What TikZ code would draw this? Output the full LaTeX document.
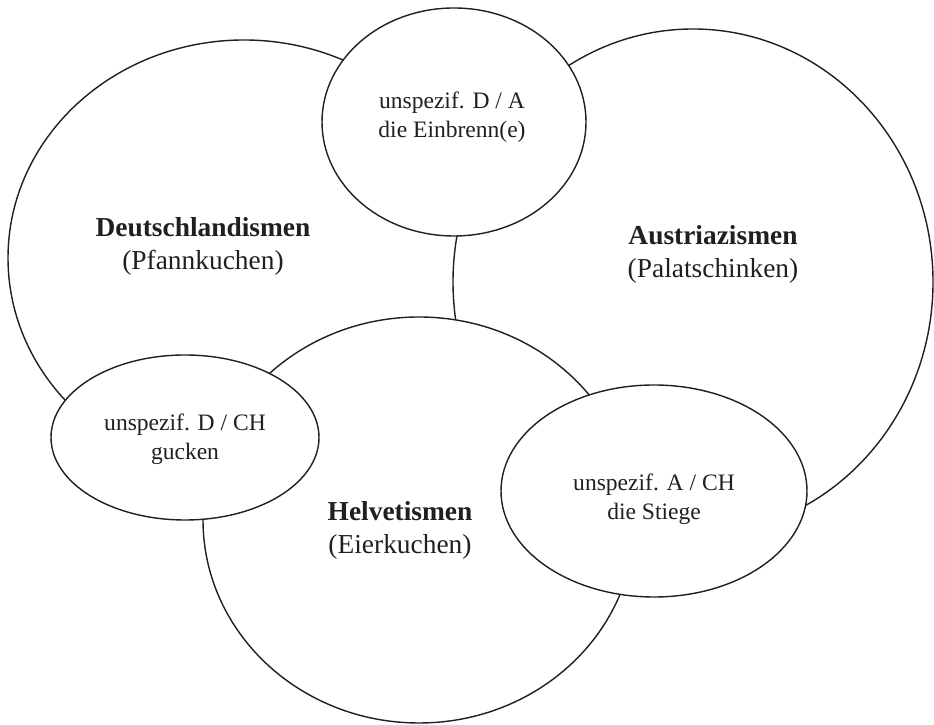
\documentclass[tikz,border=0pt]{standalone}
\usepackage{fontspec}
\setmainfont{Liberation Serif}
\usetikzlibrary{shapes.geometric}
\definecolor{VdInk}{RGB}{35,31,32}
\tikzset{
  vd/region/.style={
    ellipse,
    draw=VdInk,
    line width=0.8pt,
    fill=white,
    inner sep=0pt,
    outer sep=0pt
  },
  vd/title/.style={
    align=center,
    text=VdInk,
    font=\fontsize{15.6}{18.8}\selectfont
  },
  vd/note/.style={
    align=center,
    text=VdInk,
    font=\fontsize{13.4}{16.6}\selectfont
  }
}

\begin{document}
\begin{tikzpicture}[x=1cm,y=1cm]
  \useasboundingbox (0,0) rectangle (18.68,14.5);
  % three varieties
  \node[vd/region,minimum width=9.44cm,minimum height=8.72cm] (deu) at (4.88,9.34) {};
  \node[vd/region,minimum width=9.60cm,minimum height=10.12cm] (aut) at (13.86,8.86) {};
  \node[vd/region,minimum width=8.64cm,minimum height=8.12cm] (che) at (8.38,4.10) {};
  % overlaps
  \node[vd/region,minimum width=5.28cm,minimum height=4.56cm] (deaut) at (9.08,12.06) {};
  \node[vd/region,minimum width=5.36cm,minimum height=3.30cm] (deche) at (3.70,5.75) {};
  \node[vd/region,minimum width=6.12cm,minimum height=4.24cm] (autche) at (13.08,4.68) {};
  % labels
  \node[vd/title] (deu label) at (4.06,9.57) {\textbf{Deutschlandismen}\\(Pfannkuchen)};
  \node[vd/title] (aut label) at (14.26,9.42) {\textbf{Austriazismen}\\(Palatschinken)};
  \node[vd/title] (che label) at (8.00,3.90) {\textbf{Helvetismen}\\(Eierkuchen)};
  \node[vd/note] (deaut label) at (9.04,12.15) {unspezif. D / A\\die Einbrenn(e)};
  \node[vd/note] (deche label) at (3.70,5.71) {unspezif. D / CH\\gucken};
  \node[vd/note] (autche label) at (13.08,4.52) {unspezif. A / CH\\die Stiege};
\end{tikzpicture}
\end{document}
